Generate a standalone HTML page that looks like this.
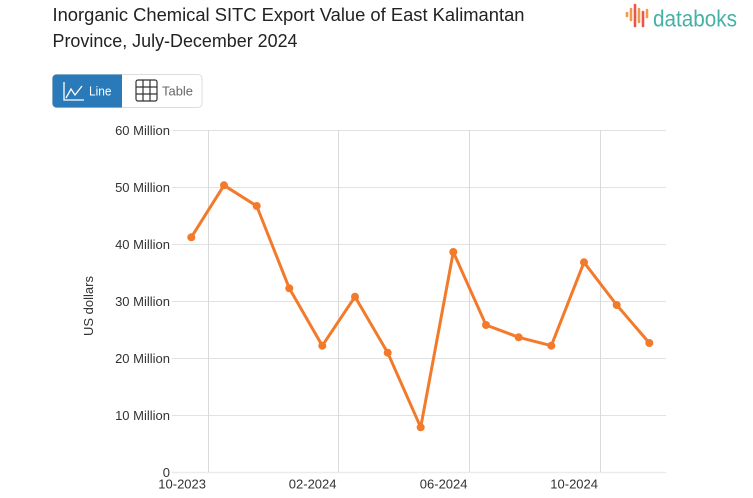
<!DOCTYPE html>
<html><head><meta charset="utf-8"><style>
html,body{margin:0;padding:0;background:#fff;}
svg{display:block;}
text{font-family:"Liberation Sans",sans-serif;}
</style></head><body>
<svg width="753" height="498" viewBox="0 0 753 498" xmlns="http://www.w3.org/2000/svg">
<rect width="753" height="498" fill="#fff"/>
<!-- title -->
<text x="52.5" y="21" font-size="18.5" fill="#222" textLength="472" lengthAdjust="spacingAndGlyphs">Inorganic Chemical SITC Export Value of East Kalimantan</text>
<text x="52.5" y="47" font-size="18.5" fill="#222" textLength="245" lengthAdjust="spacingAndGlyphs">Province, July-December 2024</text>
<!-- logo -->
<g stroke-linecap="round" stroke-width="2.6">
<line x1="627" y1="13" x2="627" y2="16" stroke="#f39a4a"/>
<line x1="631" y1="9" x2="631" y2="20" stroke="#f39a4a"/>
<line x1="635" y1="5" x2="635" y2="26" stroke="#e8554c"/>
<line x1="639" y1="9" x2="639" y2="22" stroke="#f39a4a"/>
<line x1="643" y1="12" x2="643" y2="26" stroke="#e8554c"/>
<line x1="647" y1="10" x2="647" y2="17" stroke="#f39a4a"/>
</g>
<text x="653" y="26.5" font-size="23" fill="#45b1a6" textLength="84" lengthAdjust="spacingAndGlyphs">databoks</text>
<!-- buttons -->
<rect x="52.5" y="74.5" width="149.5" height="33" rx="4" fill="#fff" stroke="#dcdcdc"/>
<path d="M56.5 74.5 H122 V107.5 H56.5 A4 4 0 0 1 52.5 103.5 V78.5 A4 4 0 0 1 56.5 74.5 Z" fill="#2a7ab9"/>
<g fill="none" stroke="#fff" stroke-width="1.3">
<path d="M64 82 V100 H84"/>
<path d="M66 98 L71 89 L75 95 L82 86"/>
</g>
<text x="89" y="95.7" font-size="13" fill="#fff" textLength="22.5" lengthAdjust="spacingAndGlyphs">Line</text>
<g fill="none" stroke="#333" stroke-width="1.2">
<rect x="136" y="80" width="21" height="21" rx="2"/>
<line x1="143" y1="80" x2="143" y2="101"/>
<line x1="150" y1="80" x2="150" y2="101"/>
<line x1="136" y1="87" x2="157" y2="87"/>
<line x1="136" y1="94" x2="157" y2="94"/>
</g>
<text x="162" y="95.7" font-size="13" fill="#666" textLength="31" lengthAdjust="spacingAndGlyphs">Table</text>
<!-- gridlines -->
<g stroke="#e2e2e2" stroke-width="1">
<line x1="172" y1="130.5" x2="666" y2="130.5"/>
<line x1="172" y1="187.5" x2="666" y2="187.5"/>
<line x1="172" y1="244.5" x2="666" y2="244.5"/>
<line x1="172" y1="301.5" x2="666" y2="301.5"/>
<line x1="172" y1="358.5" x2="666" y2="358.5"/>
<line x1="172" y1="415.5" x2="666" y2="415.5"/>
<line x1="172" y1="472.5" x2="666" y2="472.5" stroke="#ececec" stroke-width="1.5"/>
</g>
<g stroke="#dadada" stroke-width="1">
<line x1="208.5" y1="130" x2="208.5" y2="472"/>
<line x1="338.5" y1="130" x2="338.5" y2="472"/>
<line x1="469.5" y1="130" x2="469.5" y2="472"/>
<line x1="600.5" y1="130" x2="600.5" y2="472"/>
</g>
<!-- y labels -->
<g font-size="13" fill="#333" text-anchor="end">
<text x="170" y="135">60 Million</text>
<text x="170" y="192">50 Million</text>
<text x="170" y="249">40 Million</text>
<text x="170" y="306">30 Million</text>
<text x="170" y="363">20 Million</text>
<text x="170" y="420">10 Million</text>
<text x="170" y="477">0</text>
</g>
<text transform="translate(93,306) rotate(-90)" font-size="13" fill="#333" text-anchor="middle">US dollars</text>
<!-- x labels -->
<g font-size="13" fill="#333" text-anchor="end">
<text x="206" y="488.5">10-2023</text>
<text x="336.5" y="488.5">02-2024</text>
<text x="467.5" y="488.5">06-2024</text>
<text x="598" y="488.5">10-2024</text>
</g>
<!-- series -->
<polyline fill="none" stroke="#f37a2b" stroke-width="3" stroke-linejoin="round" stroke-linecap="round"
points="191.3,237.3 224,185.3 256.7,206 289.3,288.3 322.3,345.7 355,296.7 387.7,352.7 420.7,427.3 453.3,252 486,325 518.7,337.3 551.3,345.7 584,262.3 616.7,305 649.3,343"/>
<g fill="#f37a2b">
<circle cx="191.3" cy="237.3" r="4"/>
<circle cx="224" cy="185.3" r="4"/>
<circle cx="256.7" cy="206" r="4"/>
<circle cx="289.3" cy="288.3" r="4"/>
<circle cx="322.3" cy="345.7" r="4"/>
<circle cx="355" cy="296.7" r="4"/>
<circle cx="387.7" cy="352.7" r="4"/>
<circle cx="420.7" cy="427.3" r="4"/>
<circle cx="453.3" cy="252" r="4"/>
<circle cx="486" cy="325" r="4"/>
<circle cx="518.7" cy="337.3" r="4"/>
<circle cx="551.3" cy="345.7" r="4"/>
<circle cx="584" cy="262.3" r="4"/>
<circle cx="616.7" cy="305" r="4"/>
<circle cx="649.3" cy="343" r="4"/>
</g>
</svg>
</body></html>
